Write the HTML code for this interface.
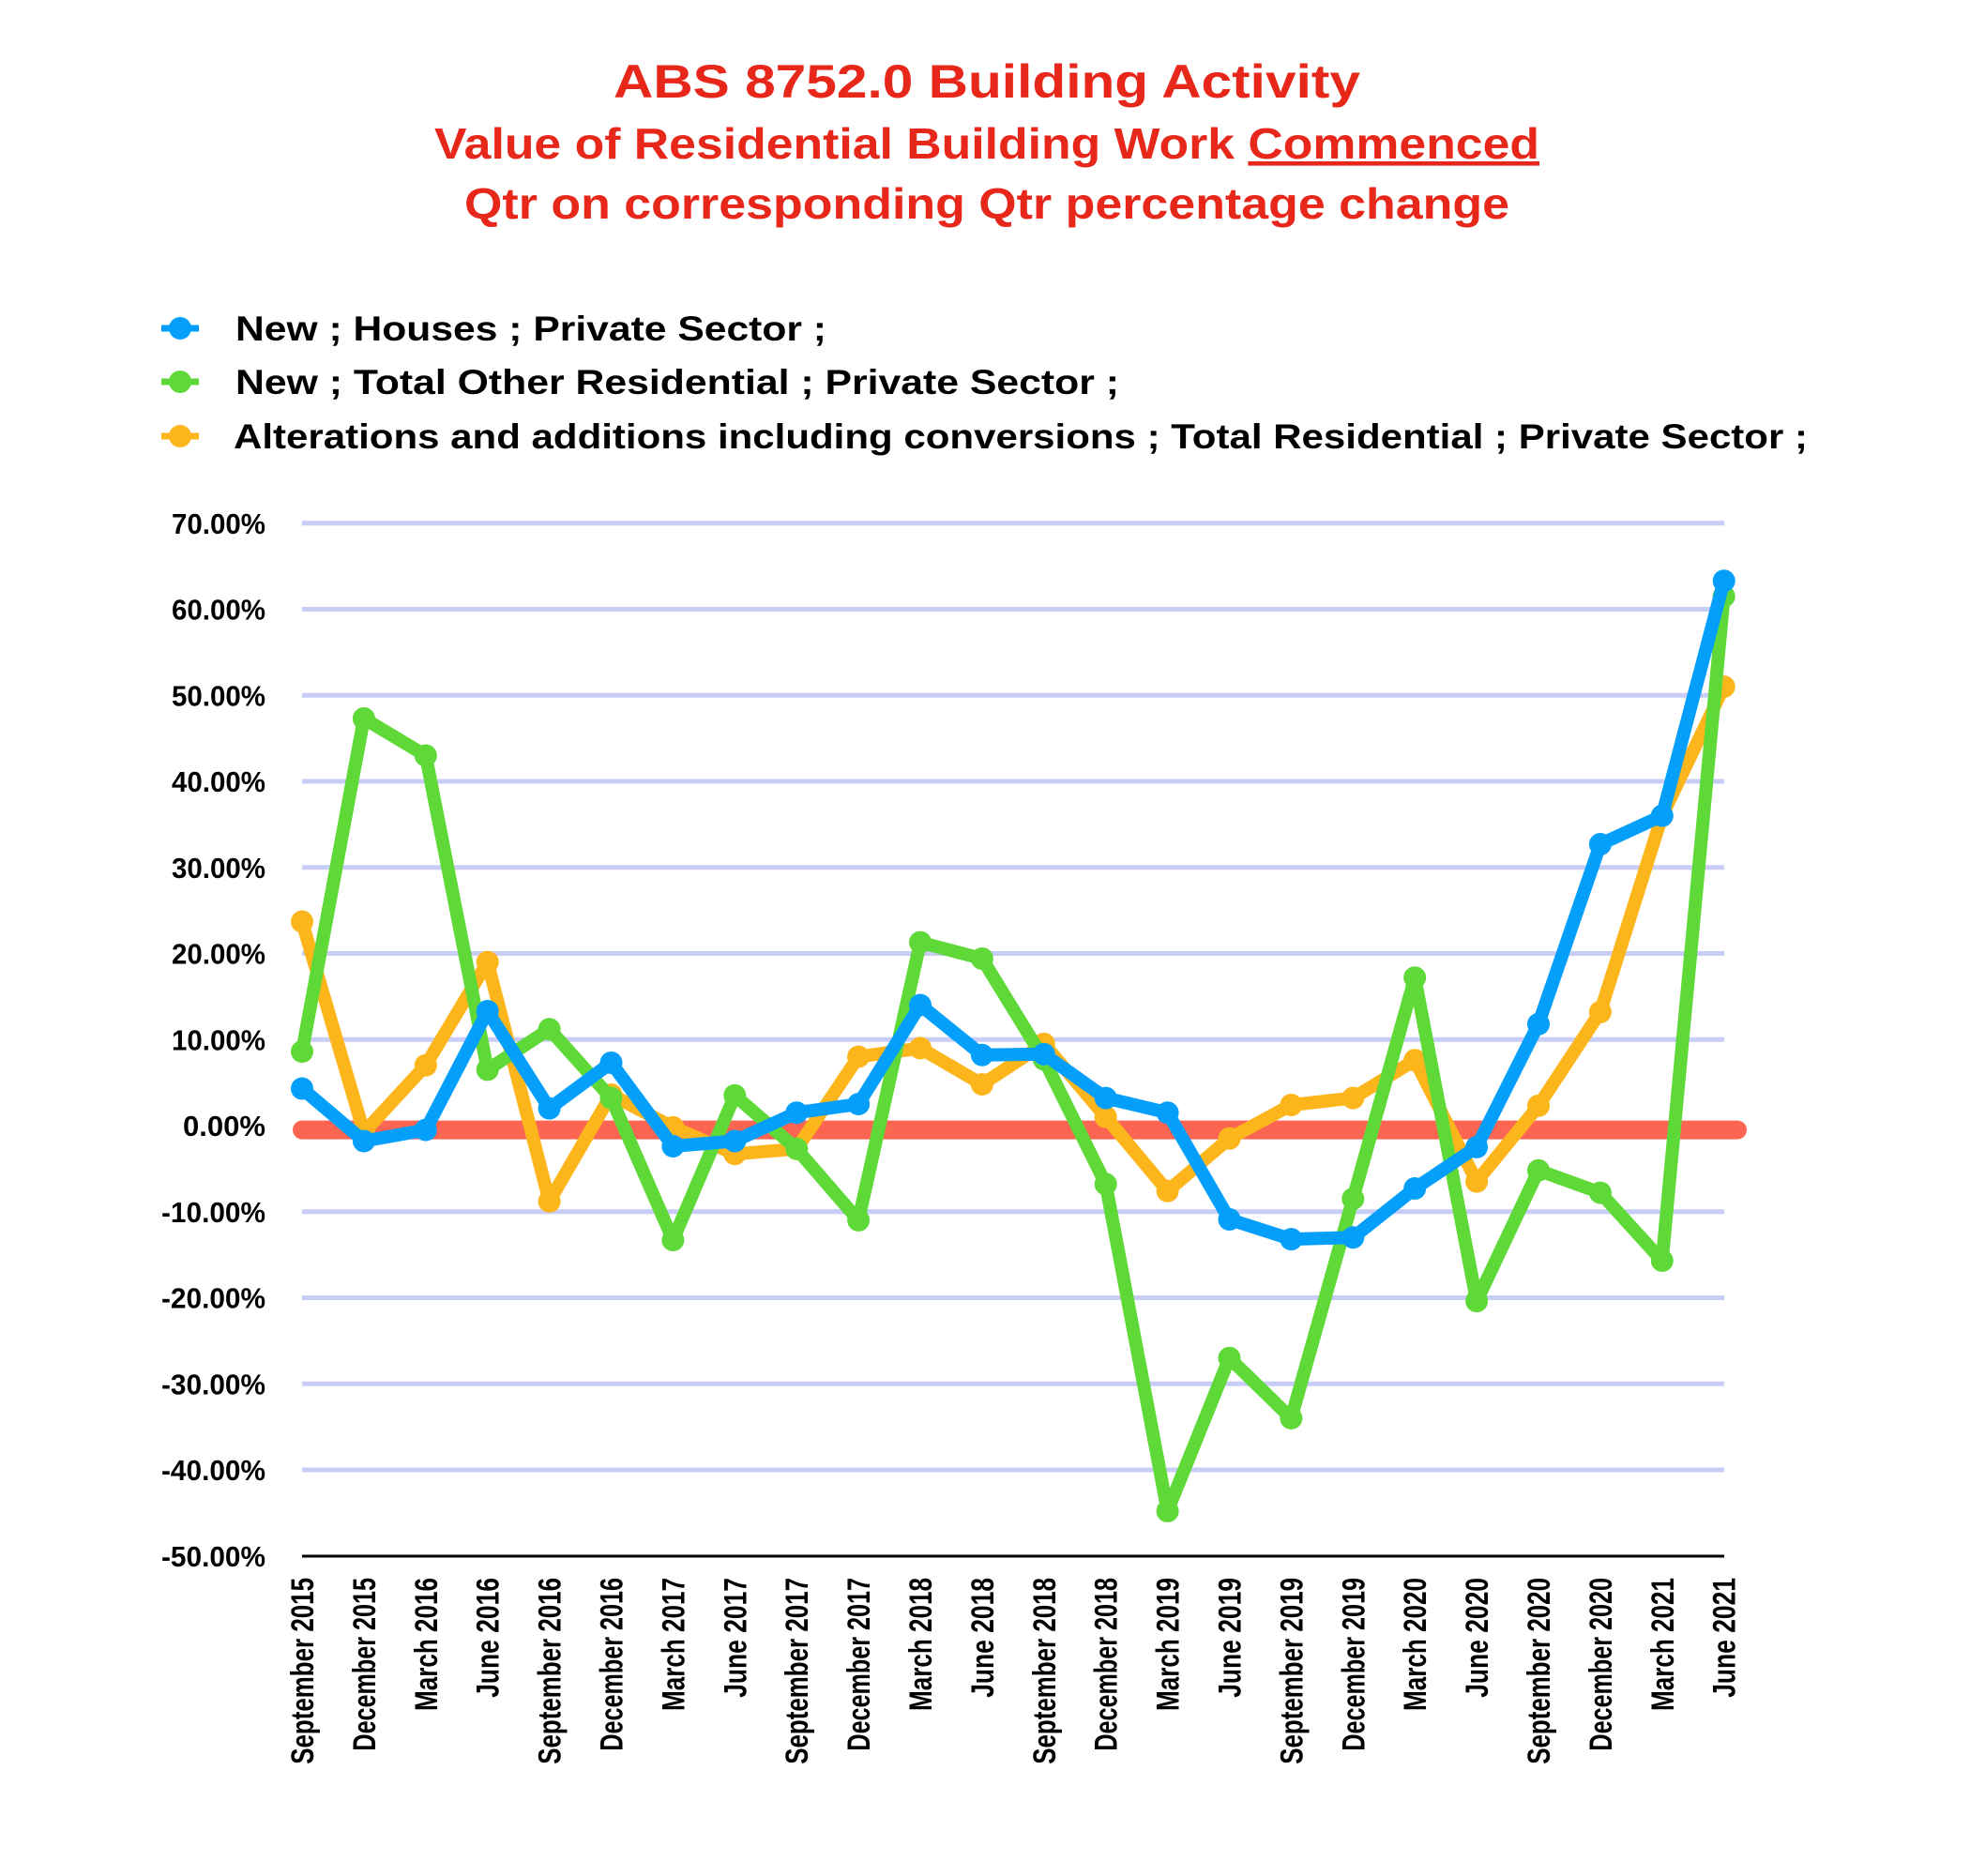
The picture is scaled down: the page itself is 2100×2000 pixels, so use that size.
<!DOCTYPE html>
<html><head><meta charset="utf-8"><style>
html,body{margin:0;padding:0;background:#fff}
svg{display:block}
text{font-family:"Liberation Sans","DejaVu Sans",sans-serif;font-weight:bold}
</style></head><body>
<svg id="s" width="2100" height="2000" viewBox="0 0 2100 2000" xmlns="http://www.w3.org/2000/svg">
<rect width="2100" height="2000" fill="#fff"/>
<g fill="#e8271b" text-anchor="middle">
<text x="1052" y="104" font-size="50" textLength="796" lengthAdjust="spacingAndGlyphs">ABS 8752.0 Building Activity</text>
<text x="1052" y="169" font-size="46" textLength="1178" lengthAdjust="spacingAndGlyphs">Value of Residential Building Work <tspan text-decoration="underline">Commenced</tspan></text>
<text x="1052" y="233" font-size="46" textLength="1114" lengthAdjust="spacingAndGlyphs">Qtr on corresponding Qtr percentage change</text>
</g>
<g font-size="37" fill="#000">
<line x1="172" y1="350" x2="212" y2="350" stroke="#049ffb" stroke-width="7"/><circle cx="192" cy="350" r="12" fill="#049ffb"/>
<text x="251" y="363" textLength="630" lengthAdjust="spacingAndGlyphs">New ;  Houses ;  Private Sector ;</text>
<line x1="172" y1="407" x2="212" y2="407" stroke="#5fd938" stroke-width="7"/><circle cx="192" cy="407" r="12" fill="#5fd938"/>
<text x="251" y="420" textLength="942" lengthAdjust="spacingAndGlyphs">New ;  Total Other Residential ;  Private Sector ;</text>
<line x1="172" y1="465" x2="212" y2="465" stroke="#fdb51c" stroke-width="7"/><circle cx="192" cy="465" r="12" fill="#fdb51c"/>
<text x="249" y="478" textLength="1678" lengthAdjust="spacingAndGlyphs">Alterations and additions including conversions ;  Total Residential ;  Private Sector ;</text>
</g>
<g id="grid"></g>
<g id="data"></g>
</svg>
<script>
var NS="http://www.w3.org/2000/svg";
function el(p,t,a,txt){var e=document.createElementNS(NS,t);for(var k in a)e.setAttribute(k,a[k]);if(txt!=null)e.textContent=txt;p.appendChild(e);return e;}
function Y(v){return 1200-v*9.175;}
function X(i){return 322+i*65.9;}
var g=document.getElementById('grid'),d=document.getElementById('data');
for(var v=70;v>=-40;v-=10){
 el(g,'line',{x1:322,x2:1838,y1:Y(v),y2:Y(v),stroke:'#c8cdf8','stroke-width':5});
}
for(var v=70;v>=-50;v-=10){
 var s=v.toFixed(2)+'%';
 el(g,'text',{x:283,y:Y(v)+11,'font-size':31,'text-anchor':'end',textLength:(v<0?111:(v==0?88:100)),lengthAdjust:'spacingAndGlyphs'},s);
}
el(g,'line',{x1:322,x2:1838,y1:1659,y2:1659,stroke:'#000','stroke-width':3});
var labs=["September 2015","December 2015","March 2016","June 2016","September 2016","December 2016","March 2017","June 2017","September 2017","December 2017","March 2018","June 2018","September 2018","December 2018","March 2019","June 2019","September 2019","December 2019","March 2020","June 2020","September 2020","December 2020","March 2021","June 2021"];
labs.forEach(function(l,i){
 var x=X(i)+12,y=1682;
 var L=l.length*14.2;
 el(g,'text',{x:x,y:y,'font-size':34,'text-anchor':'end',transform:'rotate(-90 '+x+' '+y+')',textLength:L,lengthAdjust:'spacingAndGlyphs'},l);
});
el(d,'line',{x1:322,x2:1852,y1:Y(-0.5),y2:Y(-0.5),stroke:'#fc6552','stroke-width':20,'stroke-linecap':'round'});
var O=[23.7,-0.8,7,19,-8.8,3.6,-0.2,-3.3,-2.7,8,9,4.8,9.5,1,-7.6,-1.5,2.4,3.2,7.6,-6.5,2.3,13.2,36,51];
var G=[8.6,47.3,43,6.5,11.2,3.2,-13.3,3.5,-2.7,-11,21.3,19.4,7.7,-6.8,-44.8,-27,-34,-8.5,17.2,-20.4,-5.2,-7.8,-15.7,61.5];
var B=[4.3,-1.8,-0.5,13.3,2,7.3,-2.4,-1.8,1.5,2.5,14,8.2,8.3,3.2,1.5,-10.9,-13.2,-13,-7.3,-2.5,11.8,32.7,36,63.3];
function series(a,c){
 var p=a.map(function(v,i){return X(i).toFixed(1)+','+Y(v).toFixed(1)}).join(' ');
 el(d,'polyline',{points:p,fill:'none',stroke:c,'stroke-width':14,'stroke-linejoin':'round'});
 a.forEach(function(v,i){el(d,'circle',{cx:X(i),cy:Y(v),r:12,fill:c});});
}
series(O,'#fdb51c');series(G,'#5fd938');series(B,'#049ffb');
</script>
</body></html>
